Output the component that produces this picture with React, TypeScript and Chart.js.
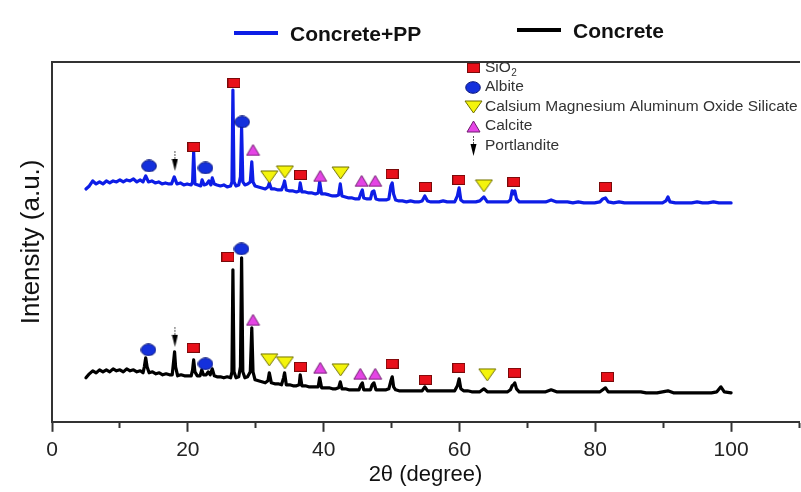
import React, { useEffect, useRef } from 'react';
import { Chart, registerables } from 'chart.js';

Chart.register(...registerables);

// ---------- axis ----------
const X_MIN = 0;
const X_MAX = 110;
const X_TICK_STEP = 10;
const X_LABEL_STEP = 20;
const X_LABEL_MAX = 100;
const Y_MIN = 0;
const Y_MAX = 360;
const X_TITLE = '2θ (degree)';
const Y_TITLE = 'Intensity (a.u.)';

// ---------- series ----------
const SERIES_LABELS = ['Concrete+PP', 'Concrete'];
const SERIES_COLORS = ['#0d1de6', '#000000'];

// [2θ, intensity] – Concrete+PP (offset pattern, upper)
const PP_PATTERN: [number, number][] = [
  [5, 233], [5.5, 236], [6, 241], [6.5, 238], [7, 240], [7.5, 238], [8, 241], [8.5, 239], [9, 241], [9.5, 240],
  [10, 242], [10.5, 240], [11, 242], [11.5, 241], [12, 243], [12.5, 240], [13, 242], [13.4, 240], [13.8, 246], [14.2, 240],
  [14.7, 241], [15.2, 239], [15.7, 240], [16.2, 238], [16.7, 239], [17.2, 238], [17.6, 238], [18.0, 245], [18.4, 238], [18.9, 239],
  [19.4, 237], [19.9, 238], [20.5, 237], [20.7, 240], [20.86, 270], [21.05, 238], [21.5, 237], [21.9, 236], [22.1, 242], [22.4, 237],
  [22.8, 238], [23.1, 241], [23.4, 237], [23.6, 244], [23.9, 238], [24.3, 237], [24.8, 236], [25.3, 237], [25.8, 235], [26.3, 236],
  [26.5, 240], [26.64, 332], [26.8, 240], [27.1, 236], [27.5, 237], [27.75, 245], [27.92, 295], [28.1, 240], [28.4, 237], [28.8, 238],
  [29.2, 240], [29.42, 260], [29.6, 240], [29.9, 236], [30.4, 235], [30.9, 234], [31.4, 233], [31.8, 235], [32.0, 239], [32.3, 233],
  [32.8, 233], [33.3, 232], [33.8, 232], [34.1, 237], [34.25, 241], [34.5, 232], [35.0, 231], [35.5, 231], [36.0, 230], [36.4, 231],
  [36.55, 239], [36.8, 230], [37.3, 230], [37.8, 229], [38.3, 229], [38.8, 228], [39.2, 229], [39.42, 240], [39.7, 228], [40.2, 228],
  [40.8, 227], [41.3, 226], [41.8, 226], [42.2, 227], [42.45, 238], [42.7, 226], [43.2, 225], [43.7, 224], [44.2, 224], [44.7, 223],
  [45.2, 223], [45.5, 229], [45.7, 232], [45.9, 224], [46.4, 223], [46.9, 223], [47.15, 230], [47.4, 231], [47.7, 223], [48.2, 222],
  [48.7, 222], [49.2, 222], [49.6, 223], [49.9, 236], [50.1, 239], [50.3, 228], [50.6, 222], [51.1, 221], [51.6, 221], [52.2, 220],
  [52.8, 221], [53.4, 220], [54.0, 220], [54.5, 221], [54.9, 226], [55.3, 221], [55.8, 220], [56.4, 220], [57.0, 220], [57.6, 221],
  [58.2, 220], [58.8, 220], [59.3, 220], [59.7, 226], [59.95, 234], [60.2, 222], [60.6, 220], [61.2, 220], [61.8, 220], [62.4, 220],
  [63.0, 221], [63.6, 225], [64.1, 220], [64.7, 220], [65.3, 220], [65.9, 220], [66.5, 220], [67.1, 220], [67.5, 222], [67.75, 231],
  [67.95, 228], [68.15, 231], [68.4, 223], [68.8, 220], [69.5, 220], [70.3, 220], [71.1, 220], [71.9, 220], [72.7, 220], [73.5, 222],
  [74.3, 220], [75.1, 220], [75.9, 220], [76.7, 219], [77.5, 220], [78.3, 219], [79.1, 219], [79.9, 219], [80.7, 220], [81.1, 223],
  [81.5, 224], [81.9, 220], [82.7, 219], [83.5, 220], [84.3, 219], [85.1, 219], [85.9, 219], [86.7, 219], [87.5, 219], [88.3, 219],
  [89.1, 219], [89.9, 219], [90.4, 221], [90.7, 225], [91.0, 220], [91.8, 219], [92.6, 219], [93.4, 219], [94.2, 219], [95.0, 220],
  [95.8, 219], [96.6, 219], [97.4, 220], [98.2, 219], [99.0, 219], [100, 219],
];

// [2θ, intensity] – Concrete (lower)
const C_PATTERN: [number, number][] = [
  [5, 44], [5.5, 48], [6, 51], [6.5, 49], [7, 52], [7.5, 50], [8, 52], [8.5, 50], [9, 53], [9.5, 51],
  [10, 52], [10.5, 50], [11, 53], [11.5, 51], [12, 52], [12.5, 50], [13, 51], [13.4, 49], [13.6, 55], [13.8, 64],
  [14.0, 55], [14.3, 49], [14.8, 50], [15.3, 48], [15.8, 49], [16.3, 47], [16.8, 48], [17.3, 47], [17.7, 47], [17.9, 60],
  [18.05, 70], [18.2, 55], [18.5, 46], [19.0, 47], [19.5, 46], [20.0, 46], [20.5, 46], [20.7, 52], [20.86, 62], [21.05, 50],
  [21.4, 46], [21.8, 46], [22.05, 52], [22.3, 47], [22.7, 47], [23.0, 50], [23.3, 47], [23.6, 53], [23.9, 46], [24.3, 45],
  [24.8, 45], [25.3, 44], [25.8, 45], [26.3, 44], [26.5, 50], [26.64, 152], [26.8, 50], [27.1, 44], [27.5, 45], [27.75, 55],
  [27.92, 164], [28.1, 50], [28.4, 44], [28.8, 45], [29.2, 50], [29.42, 94], [29.6, 50], [29.9, 42], [30.4, 41], [30.9, 40],
  [31.4, 39], [31.8, 41], [32.0, 49], [32.3, 39], [32.8, 38], [33.3, 38], [33.8, 37], [34.1, 44], [34.25, 49], [34.5, 37],
  [35.0, 37], [35.5, 36], [36.0, 36], [36.4, 37], [36.55, 47], [36.8, 36], [37.3, 36], [37.8, 35], [38.3, 35], [38.8, 35],
  [39.2, 35], [39.42, 44], [39.7, 34], [40.2, 34], [40.8, 34], [41.3, 33], [41.8, 33], [42.2, 34], [42.45, 40], [42.7, 33],
  [43.2, 33], [43.7, 32], [44.2, 32], [44.7, 32], [45.2, 32], [45.5, 37], [45.7, 39], [45.9, 32], [46.4, 32], [46.9, 32],
  [47.15, 37], [47.4, 39], [47.7, 32], [48.2, 32], [48.7, 32], [49.2, 32], [49.6, 33], [49.9, 41], [50.1, 45], [50.3, 35],
  [50.6, 32], [51.1, 31], [51.6, 31], [52.2, 31], [52.8, 31], [53.4, 31], [54.0, 31], [54.5, 31], [54.9, 35], [55.3, 31],
  [55.8, 31], [56.4, 31], [57.0, 31], [57.6, 31], [58.2, 31], [58.8, 31], [59.3, 31], [59.7, 36], [59.95, 43], [60.2, 33],
  [60.6, 31], [61.2, 31], [61.8, 30], [62.4, 30], [63.0, 30], [63.6, 33], [64.1, 30], [64.7, 30], [65.3, 30], [65.9, 30],
  [66.5, 30], [67.1, 30], [67.5, 32], [67.75, 36], [67.95, 37], [68.15, 39], [68.4, 33], [68.8, 30], [69.5, 30], [70.3, 30],
  [71.1, 30], [71.9, 30], [72.7, 30], [73.5, 32], [74.3, 30], [75.1, 30], [75.9, 30], [76.7, 30], [77.5, 30], [78.3, 30],
  [79.1, 30], [79.9, 30], [80.7, 30], [81.1, 32], [81.5, 34], [81.9, 30], [82.7, 30], [83.5, 30], [84.3, 30], [85.1, 30],
  [85.9, 30], [86.7, 30], [87.5, 29], [88.3, 29], [89.1, 29], [89.9, 30], [90.7, 31], [91.5, 29], [92.3, 29], [93.1, 29],
  [93.9, 29], [94.7, 29], [95.5, 29], [96.3, 29], [97.1, 29], [97.9, 30], [98.5, 35], [99.0, 30], [100, 29],
];

// ---------- phase markers ----------
const PHASE_LABELS = ['SiO₂', 'Albite', 'Calsium Magnesium Aluminum Oxide Silicate', 'Calcite', 'Portlandite'];
const PHASE_SHAPES = ['square', 'ellipse', 'down', 'up', 'arrow'];

const SIO2_PP: [number, number][] = [[20.9, 275], [26.8, 339], [36.6, 247], [50.1, 248], [55.0, 235], [59.9, 242], [68.0, 240], [81.5, 235]];
const SIO2_C: [number, number][] = [[20.8, 74], [25.9, 165], [36.6, 55], [50.1, 58], [55.0, 42], [59.9, 54], [68.1, 49], [81.8, 45]];
const ALBITE_PP: [number, number][] = [[14.3, 256], [22.6, 254], [28.0, 300]];
const ALBITE_C: [number, number][] = [[14.2, 72], [22.6, 58], [27.9, 173]];
const CMAOS_PP: [number, number][] = [[32.0, 245], [34.3, 250], [42.5, 249], [63.6, 236]];
const CMAOS_C: [number, number][] = [[32.0, 62], [34.3, 59], [42.5, 52], [64.1, 47]];
const CALCITE_PP: [number, number][] = [[29.6, 272], [39.5, 246], [45.6, 241], [47.6, 241]];
const CALCITE_C: [number, number][] = [[29.6, 102], [39.5, 54], [45.4, 48], [47.6, 48]];
const PORTLANDITE_PP: [number, number][] = [[18.1, 261]];
const PORTLANDITE_C: [number, number][] = [[18.1, 85]];

const PHASE_POINTS = [
  [...SIO2_PP, ...SIO2_C],
  [...ALBITE_PP, ...ALBITE_C],
  [...CMAOS_PP, ...CMAOS_C],
  [...CALCITE_PP, ...CALCITE_C],
  [...PORTLANDITE_PP, ...PORTLANDITE_C],
];

const FONT = '"Liberation Sans", Arial, Helvetica, sans-serif';

function makeMarker(kind: string): HTMLCanvasElement {
  const c = document.createElement('canvas');
  const g = c.getContext('2d') as CanvasRenderingContext2D;
  if (kind === 'square') {
    c.width = 13; c.height = 10;
    g.fillStyle = '#e8101a';
    g.fillRect(0.5, 0.5, 12, 9);
    g.strokeStyle = '#7a0a0a'; g.lineWidth = 1;
    g.strokeRect(0.5, 0.5, 12, 9);
  } else if (kind === 'ellipse') {
    c.width = 16; c.height = 13;
    g.beginPath();
    g.ellipse(8, 6.5, 7.3, 5.8, 0, 0, Math.PI * 2);
    g.fillStyle = '#1430dc'; g.fill();
    g.strokeStyle = '#0a167a'; g.lineWidth = 1; g.stroke();
  } else if (kind === 'down') {
    c.width = 19; c.height = 14;
    g.beginPath();
    g.moveTo(1, 1); g.lineTo(18, 1); g.lineTo(9.5, 13); g.closePath();
    g.fillStyle = '#f4f40c'; g.fill();
    g.strokeStyle = '#6e6e00'; g.lineWidth = 1; g.stroke();
  } else if (kind === 'up') {
    c.width = 15; c.height = 13;
    g.beginPath();
    g.moveTo(7.5, 1); g.lineTo(14, 12); g.lineTo(1, 12); g.closePath();
    g.fillStyle = '#e544e5'; g.fill();
    g.strokeStyle = '#6d1b6d'; g.lineWidth = 1; g.stroke();
  } else {
    c.width = 7; c.height = 20;
    g.strokeStyle = '#555'; g.lineWidth = 1;
    g.setLineDash([2, 1]);
    g.beginPath(); g.moveTo(3.5, 0); g.lineTo(3.5, 10); g.stroke();
    g.setLineDash([]);
    g.beginPath();
    g.moveTo(0.5, 8); g.lineTo(6.5, 8); g.lineTo(3.5, 20); g.closePath();
    g.fillStyle = '#000'; g.fill();
  }
  return c;
}

const overlayLegend = {
  id: 'overlayLegend',
  afterDraw(chart: any) {
    const ctx: CanvasRenderingContext2D = chart.ctx;
    ctx.save();
    // series legend (top)
    const seriesPos = [{ x: 234, y: 33 }, { x: 517, y: 30 }];
    SERIES_LABELS.forEach((label, i) => {
      const p = seriesPos[i];
      ctx.strokeStyle = SERIES_COLORS[i];
      ctx.lineWidth = 4;
      ctx.beginPath();
      ctx.moveTo(p.x, p.y);
      ctx.lineTo(p.x + 44, p.y);
      ctx.stroke();
      ctx.fillStyle = '#111';
      ctx.font = `bold 21px ${FONT}`;
      ctx.textAlign = 'left';
      ctx.textBaseline = 'middle';
      ctx.fillText(label, p.x + 56, p.y + 2);
    });
    // phase legend (inside plot)
    const rowsY = [68, 87, 107, 126, 146];
    const markerX = 473;
    const textX = 485;
    chart.data.datasets.forEach((ds: any, i: number) => {
      if (i >= PHASE_LABELS.length) return;
      const img = ds.pointStyle as HTMLCanvasElement;
      const y = rowsY[i];
      ctx.drawImage(img, Math.round(markerX - img.width / 2), Math.round(y - img.height / 2));
      ctx.fillStyle = '#333';
      ctx.font = `15.5px ${FONT}`;
      ctx.textAlign = 'left';
      ctx.textBaseline = 'middle';
      const label: string = PHASE_LABELS[i];
      if (label.endsWith('₂')) {
        const base = label.slice(0, -1);
        ctx.fillText(base, textX, y);
        const w = ctx.measureText(base).width;
        ctx.font = `10px ${FONT}`;
        ctx.fillText('2', textX + w + 0.5, y + 5);
      } else {
        ctx.fillText(label, textX, y);
      }
    });
    ctx.restore();
  },
};

export default function App() {
  const ref = useRef<HTMLCanvasElement>(null);

  useEffect(() => {
    const canvas = ref.current;
    if (!canvas) return;
    Chart.defaults.font.family = FONT;

    const phaseDatasets = PHASE_POINTS.map((pts, i) => ({
      type: 'scatter' as const,
      label: PHASE_LABELS[i],
      data: pts.map(([x, y]) => ({ x, y })),
      pointStyle: makeMarker(PHASE_SHAPES[i]),
      pointRadius: 6,
      showLine: false,
      order: 0,
    }));

    const patternDatasets = [PP_PATTERN, C_PATTERN].map((pts, i) => ({
      type: 'scatter' as const,
      label: SERIES_LABELS[i],
      data: pts.map(([x, y]) => ({ x, y })),
      showLine: true,
      borderColor: SERIES_COLORS[i],
      backgroundColor: SERIES_COLORS[i],
      borderWidth: 3.2,
      pointRadius: 0,
      tension: 0,
      borderJoinStyle: 'round' as const,
      borderCapStyle: 'round' as const,
      order: 1,
    }));

    const chart = new Chart(canvas, {
      type: 'scatter',
      data: { datasets: [...phaseDatasets, ...patternDatasets] as any },
      options: {
        animation: false,
        responsive: false,
        events: [],
        layout: { padding: { left: 0, right: 3, top: 62, bottom: 0 } },
        plugins: {
          legend: { display: false },
          tooltip: { enabled: false },
          title: { display: false },
        },
        scales: {
          x: {
            type: 'linear',
            position: 'bottom',
            min: X_MIN,
            max: X_MAX,
            border: { display: true, color: '#333', width: 2 },
            grid: {
              display: true,
              drawOnChartArea: false,
              drawTicks: true,
              tickLength: 10,
              tickColor: '#333',
              tickWidth: 2,
              tickBorderDash: (c: any) => (c.tick && c.tick.value % X_LABEL_STEP === 0 ? [] : [5, 30]),
            } as any,
            ticks: {
              stepSize: X_TICK_STEP,
              autoSkip: false,
              maxRotation: 0,
              padding: 6,
              color: '#222',
              font: { size: 21 },
              callback: (v: any) => (Number(v) % X_LABEL_STEP === 0 && Number(v) <= X_LABEL_MAX ? String(v) : ''),
            },
            title: {
              display: true,
              text: X_TITLE,
              color: '#111',
              font: { size: 22, lineHeight: 1 },
              padding: { top: -5, bottom: 6 },
            },
          },
          xTop: {
            type: 'linear',
            position: 'top',
            min: X_MIN,
            max: X_MAX,
            border: { display: true, color: '#333', width: 2 },
            grid: { display: false, drawTicks: false },
            ticks: { display: false },
          },
          y: {
            type: 'linear',
            position: 'left',
            min: Y_MIN,
            max: Y_MAX,
            border: { display: true, color: '#333', width: 2 },
            grid: { display: false, drawTicks: false },
            ticks: { display: false },
            title: {
              display: true,
              text: Y_TITLE,
              color: '#111',
              font: { size: 26 },
              padding: { top: 16.4, bottom: 4.4 },
            },
          },
        },
      },
      plugins: [overlayLegend],
    });

    return () => chart.destroy();
  }, []);

  return (
    <div style={{ position: 'fixed', left: 0, top: 0, width: 801, height: 492, overflow: 'hidden', background: '#fff' }}>
      <canvas ref={ref} width={806} height={492} style={{ display: 'block' }} />
    </div>
  );
}
